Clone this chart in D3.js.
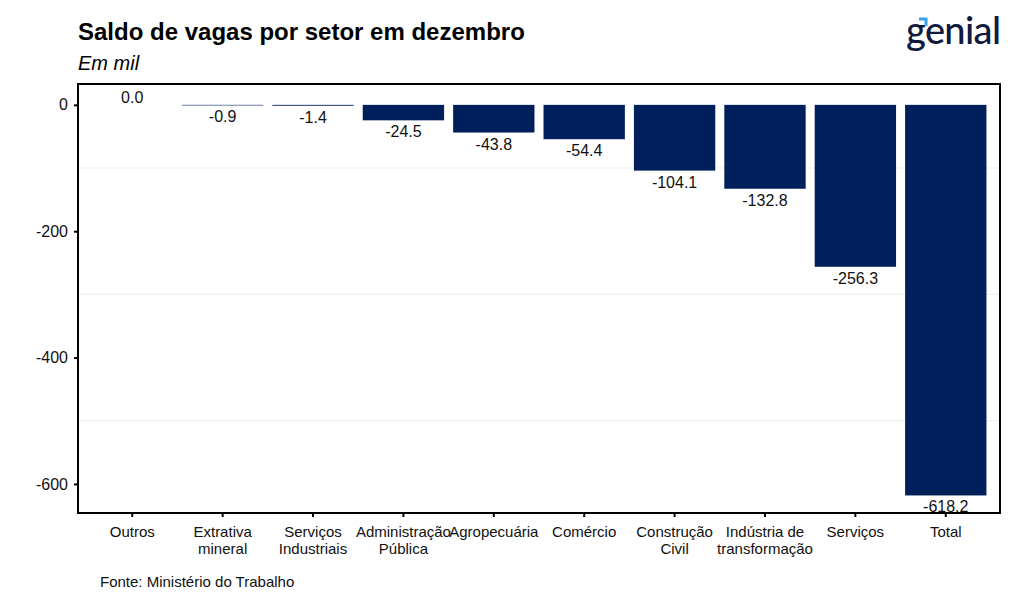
<!DOCTYPE html>
<html>
<head>
<meta charset="utf-8">
<script src="https://cdn.jsdelivr.net/npm/d3@7"></script>
<style>
  body { margin: 0; background: #fff; }
  text { font-family: "Liberation Sans", Arial, sans-serif; }
</style>
</head>
<body>
<div id="chart"></div>
<script>
// chart data
var setores = ["Outros", "Extrativa\nmineral", "Serviços\nIndustriais", "Administração\nPública",
  "Agropecuária", "Comércio", "Construção\nCivil", "Indústria de\ntransformação", "Serviços", "Total"];
var saldo = [0.0, -0.9, -1.4, -24.5, -43.8, -54.4, -104.1, -132.8, -256.3, -618.2];
var yTicks = [0, -200, -400, -600];
var yMinor = [-100, -300, -500];

var svgWidth = 1024;
var svgHeight = 615;

// panel box
var margin = { top: 84, right: 24, bottom: 102, left: 78 };
var width = svgWidth - margin.left - margin.right;
var height = svgHeight - margin.top - margin.bottom;

var svg = d3.select("#chart")
  .append("svg")
  .attr("width", svgWidth)
  .attr("height", svgHeight);

var data = setores.map(function (s, i) { return { setor: s, valor: saldo[i] }; });

var xScale = d3.scaleBand()
  .domain(setores)
  .range([0, width])
  .paddingInner(0.1)
  .paddingOuter(0.15);

var yScale = d3.scaleLinear()
  .domain([-646, 33])
  .range([height, 0]);

var chartGroup = svg.append("g")
  .attr("transform", "translate(" + margin.left + "," + margin.top + ")");

// light minor grid
chartGroup.selectAll(".minor")
  .data(yMinor)
  .enter()
  .append("line")
  .attr("x1", 0)
  .attr("x2", width)
  .attr("y1", d => yScale(d))
  .attr("y2", d => yScale(d))
  .attr("stroke", "#ededed")
  .attr("stroke-width", 1);

// bars
chartGroup.selectAll("rect.bar")
  .data(data)
  .enter()
  .append("rect")
  .attr("class", "bar")
  .attr("x", d => xScale(d.setor))
  .attr("width", xScale.bandwidth())
  .attr("y", d => yScale(Math.max(0, d.valor)))
  .attr("height", d => Math.abs(yScale(d.valor) - yScale(0)))
  .attr("fill", "#001f5b");

// value labels
chartGroup.selectAll("text.val")
  .data(data)
  .enter()
  .append("text")
  .attr("class", "val")
  .attr("x", d => xScale(d.setor) + xScale.bandwidth() / 2)
  .attr("y", d => d.valor >= 0 ? yScale(0) - 2 : yScale(d.valor) + 17)
  .attr("text-anchor", "middle")
  .style("font-size", "16px")
  .attr("fill", "#111")
  .text(d => d.valor.toFixed(1));

// axes
var leftAxis = d3.axisLeft(yScale)
  .tickValues(yTicks)
  .tickSize(4)
  .tickPadding(6)
  .tickFormat(d => String(d)); // plain hyphen, like the original
var bottomAxis = d3.axisBottom(xScale).tickSize(4).tickFormat("");

var gy = chartGroup.append("g").call(leftAxis);
gy.select(".domain").remove();
gy.selectAll("line").attr("stroke", "#000").attr("stroke-width", 2);
gy.selectAll("text").style("font-size", "16px").attr("fill", "#111");

var gx = chartGroup.append("g")
  .attr("transform", "translate(0," + height + ")")
  .call(bottomAxis);
gx.select(".domain").remove();
gx.selectAll("line").attr("stroke", "#000").attr("stroke-width", 2);

// category labels on two lines
gx.selectAll(".tick").each(function (d) {
  var t = d3.select(this).append("text")
    .attr("text-anchor", "middle")
    .attr("fill", "#111")
    .style("font-size", "15px");
  d.split("\n").forEach(function (line, i) {
    t.append("tspan").attr("x", 0).attr("y", 24 + i * 17).text(line);
  });
});

// panel border
chartGroup.append("rect")
  .attr("width", width)
  .attr("height", height)
  .attr("fill", "none")
  .attr("stroke", "#000")
  .attr("stroke-width", 2);

// titles
svg.append("text")
  .attr("x", 78)
  .attr("y", 40)
  .style("font-size", "24px")
  .style("font-weight", "bold")
  .attr("fill", "#000")
  .text("Saldo de vagas por setor em dezembro");

svg.append("text")
  .attr("x", 78)
  .attr("y", 70)
  .style("font-size", "20px")
  .style("font-style", "italic")
  .attr("fill", "#000")
  .text("Em mil");

svg.append("text")
  .attr("x", 100)
  .attr("y", 587)
  .style("font-size", "15px")
  .attr("fill", "#111")
  .text("Fonte: Ministério do Trabalho");

// logo
svg.append("text")
  .attr("x", 906)
  .attr("y", 44)
  .attr("textLength", 95)
  .style("font-family", "Lato, 'Noto Sans', sans-serif")
  .style("font-size", "38px")
  .style("font-weight", "500")
  .attr("fill", "#0f1a3e")
  .text("genial");

svg.append("path")
  .attr("d", "M919,19 L926,19 L926,26")
  .attr("fill", "none")
  .attr("stroke", "#3aa0f0")
  .attr("stroke-width", 3);
</script>
</body>
</html>
